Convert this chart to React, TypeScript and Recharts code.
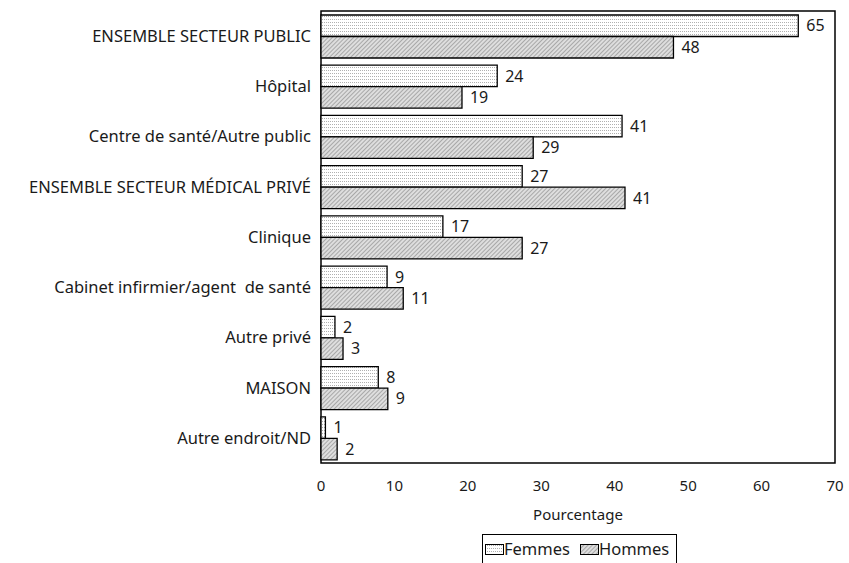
import { Bar, BarChart, LabelList, ReferenceArea, XAxis, YAxis } from "recharts";

const categories = [
  "ENSEMBLE SECTEUR PUBLIC",
  "Hôpital",
  "Centre de santé/Autre public",
  "ENSEMBLE SECTEUR MÉDICAL PRIVÉ",
  "Clinique",
  "Cabinet infirmier/agent\u00a0 de santé",
  "Autre privé",
  "MAISON",
  "Autre endroit/ND",
];

const femmes = [65, 24, 41, 27.4, 16.6, 9, 1.9, 7.8, 0.6];
const hommes = [48, 19.2, 28.9, 41.4, 27.4, 11.2, 3, 9.1, 2.2];

const xTicks = [0, 10, 20, 30, 40, 50, 60, 70];

const data = categories.map((name, i) => ({
  name,
  femmes: femmes[i],
  hommes: hommes[i],
}));

const FONT = "'Noto Sans', sans-serif";
const INK = "#1a1a1a";

function Swatch({ fill }: { fill: string }) {
  return (
    <svg width={19} height={11} style={{ display: "block" }}>
      <rect x={0.5} y={0.5} width={18} height={10} fill={fill} stroke="#000" strokeWidth={1} />
    </svg>
  );
}

export default function App() {
  return (
    <div style={{ position: "absolute", left: 0, top: 0, width: 849, height: 563, background: "#fff", fontFamily: FONT }}>
      <BarChart
        width={849}
        height={563}
        data={data}
        layout="vertical"
        margin={{ top: 11, right: 14, bottom: 40, left: 0 }}
        barGap={0}
        barSize={21.5}
      >
        <defs>
          <pattern id="dots" width={2} height={3} patternUnits="userSpaceOnUse">
            <rect width={2} height={3} fill="#fff" />
            <rect x={0} y={1} width={1} height={1} fill="#b0b0b0" />
          </pattern>
          <pattern id="hatch" width={3} height={3} patternUnits="userSpaceOnUse" patternTransform="rotate(45)">
            <rect width={3} height={3} fill="#dedede" />
            <rect x={0} y={0} width={1} height={3} fill="#a8a8a8" />
          </pattern>
        </defs>
        <XAxis
          type="number"
          domain={[0, 70]}
          ticks={xTicks}
          tickLine={false}
          axisLine={false}
          tick={{ fill: INK, fontSize: 15, fontFamily: FONT }}
          tickMargin={11}
          height={60}
          label={{ value: "Pourcentage", position: "insideBottom", offset: 3, fill: INK, fontSize: 15, fontFamily: FONT }}
        />
        <YAxis
          type="category"
          dataKey="name"
          width={321}
          tickLine={false}
          axisLine={false}
          interval={0}
          tick={{ fill: INK, fontSize: 16.5, fontFamily: FONT }}
          tickMargin={4}
        />
        <ReferenceArea x1={0} x2={70} fill="none" stroke="#000" strokeWidth={1.5} ifOverflow="visible" />
        <Bar dataKey="femmes" fill="url(#dots)" stroke="#000" strokeWidth={1.3} isAnimationActive={false}>
          <LabelList
            dataKey="femmes"
            position="right"
            offset={8}
            formatter={(v: any) => Math.round(Number(v))}
            style={{ fill: INK, fontSize: 16, fontFamily: FONT }}
          />
        </Bar>
        <Bar dataKey="hommes" fill="url(#hatch)" stroke="#000" strokeWidth={1.3} isAnimationActive={false}>
          <LabelList
            dataKey="hommes"
            position="right"
            offset={8}
            formatter={(v: any) => Math.round(Number(v))}
            style={{ fill: INK, fontSize: 16, fontFamily: FONT }}
          />
        </Bar>
      </BarChart>
      <div
        style={{
          position: "absolute",
          left: 482,
          top: 534,
          width: 195,
          height: 32,
          border: "1.5px solid #000",
          boxSizing: "border-box",
          display: "flex",
          alignItems: "flex-start",
          paddingTop: 3,
          paddingLeft: 2,
          fontSize: 16.5,
          lineHeight: "22px",
          color: INK,
        }}
      >
        <div style={{ display: "flex", alignItems: "center", marginRight: 10 }}>
          <Swatch fill="url(#dots)" />
          <span>Femmes</span>
        </div>
        <div style={{ display: "flex", alignItems: "center" }}>
          <Swatch fill="url(#hatch)" />
          <span>Hommes</span>
        </div>
      </div>
    </div>
  );
}
